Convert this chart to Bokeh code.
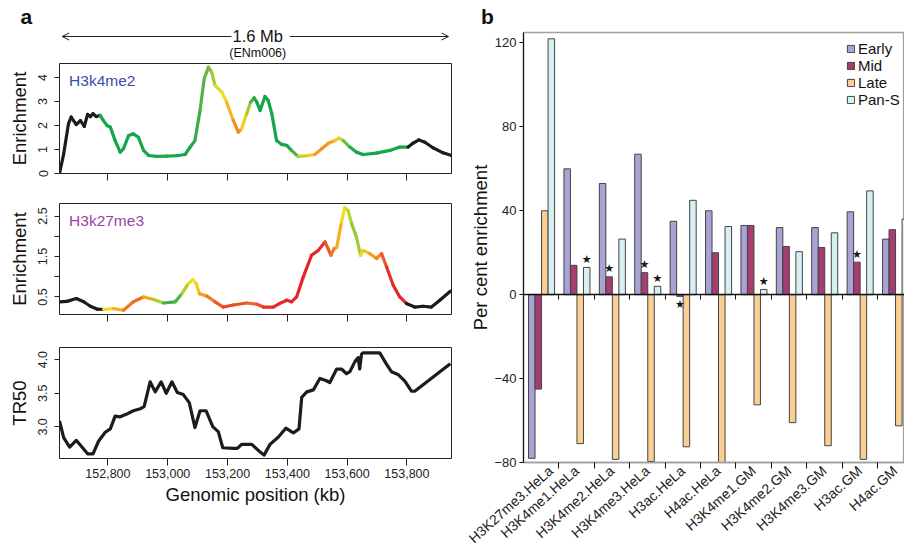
import math
import numpy as np
from bokeh.plotting import figure
from bokeh.layouts import row, column
from bokeh.models import (Range1d, FixedTicker, NumeralTickFormatter, Label, Arrow,
                          OpenHead, LinearAxis, Legend, LegendItem, ColumnDataSource,
                          LinearColorMapper)
from bokeh.transform import transform
from bokeh.core.properties import value
from bokeh.embed import file_html
from bokeh.resources import INLINE

FONT = "Liberation Sans"
NAN = float("nan")

# ---------------- Panel a data ----------------
k4_x = [152638, 152652, 152668, 152677, 152694, 152708, 152721, 152732, 152741, 152750,
        152761, 152774, 152785, 152797, 152808, 152824, 152841, 152852, 152869, 152885,
        152902, 152919, 152936, 152964, 152997, 153030, 153058, 153075, 153091, 153108,
        153122, 153136, 153147, 153158, 153181, 153197, 153219, 153236, 153247, 153264,
        153277, 153289, 153298, 153309, 153325, 153336, 153348, 153364, 153381, 153398,
        153414, 153436, 153465, 153492, 153515, 153537, 153559, 153573, 153587, 153609,
        153631, 153653, 153698, 153743, 153776, 153804, 153820, 153840, 153860, 153887,
        153921, 153949]
k4_y = [0.00, 0.82, 2.07, 2.35, 2.04, 2.20, 1.96, 2.46, 2.37, 2.49,
        2.37, 2.42, 2.20, 2.00, 1.93, 1.37, 0.89, 1.03, 1.58, 1.65,
        1.51, 0.96, 0.75, 0.71, 0.72, 0.74, 0.79, 1.10, 1.37, 2.62,
        3.95, 4.43, 4.22, 3.67, 3.39, 2.97, 2.21, 1.72, 1.86, 2.49,
        2.97, 3.15, 2.97, 2.62, 3.21, 3.04, 2.49, 1.37, 1.21, 1.17,
        0.96, 0.71, 0.74, 0.79, 1.03, 1.26, 1.37, 1.47, 1.37, 1.10,
        0.89, 0.79, 0.85, 0.96, 1.10, 1.10, 1.26, 1.40, 1.30, 1.07,
        0.86, 0.75]
k4_s = [NAN] * 11 + [0, 0, 0, 0, 0, 0, 0, 0, 0,
        0, 0, 0, 0, 0.05, 0, 0, 0, 0.05, 0.15,
        0.2, 0.25, 0.3, 0.4, 0.5, 0.55, 0.7, 0.8, 0.7, 0.45,
        0.25, 0.1, 0, 0, 0, 0, 0, 0, 0, 0,
        0, 0.3, 0.5, 0.65, 0.75, 0.72, 0.65, 0.5, 0.35, 0.15,
        0, 0, 0, 0, 0, 0] + [NAN] * 6

k27_x = [152638, 152663, 152694, 152719, 152741, 152763, 152785, 152819, 152852, 152885,
         152919, 152952, 152986, 153025, 153047, 153069, 153084, 153095, 153106, 153131,
         153158, 153186, 153219, 153264, 153298, 153320, 153353, 153375, 153398, 153414,
         153431, 153453, 153481, 153503, 153526, 153546, 153557, 153565, 153581, 153592,
         153603, 153615, 153631, 153645, 153653, 153676, 153698, 153715, 153732, 153754,
         153776, 153798, 153826, 153854, 153882, 153910, 153945]
k27_y = [0.38, 0.39, 0.46, 0.38, 0.27, 0.20, 0.19, 0.21, 0.17, 0.38,
         0.50, 0.44, 0.35, 0.38, 0.58, 0.83, 0.93, 0.83, 0.58, 0.52,
         0.38, 0.25, 0.30, 0.35, 0.32, 0.25, 0.25, 0.34, 0.42, 0.38,
         0.50, 0.99, 1.53, 1.65, 1.86, 1.53, 1.70, 1.72, 2.35, 2.71,
         2.64, 2.31, 1.98, 1.53, 1.65, 1.57, 1.45, 1.57, 1.24, 0.79,
         0.50, 0.34, 0.25, 0.27, 0.25, 0.42, 0.64]
k27_s = [NAN] * 6 + [0.5, 0.55, 0.75, 0.85,
         0.8, 0.55, 0.2, 0.05, 0.3, 0.45, 0.5, 0.5, 0.65, 0.75,
         0.85, 0.9, 0.95, 0.85, 0.85, 0.95, 1, 1, 1, 1,
         1, 1, 1, 1, 0.95, 0.8, 0.8, 0.75, 0.55, 0.5,
         0.45, 0.35, 0.3, 0.4, 0.55, 0.65, 0.75, 0.8, 0.95, 1,
         1, 1] + [NAN] * 5

tr_x = [152638, 152652, 152672, 152694, 152713, 152732, 152750, 152769, 152791, 152808,
        152824, 152841, 152863, 152885, 152908, 152921, 152941, 152958, 152978, 152995,
        153014, 153032, 153052, 153072, 153091, 153108, 153128, 153151, 153169, 153184,
        153219, 153233, 153247, 153281, 153303, 153322, 153342, 153370, 153395, 153420,
        153439, 153448, 153465, 153487, 153509, 153529, 153542, 153565, 153581, 153598,
        153609, 153626, 153637, 153642, 153648, 153653, 153709, 153732, 153748, 153770,
        153793, 153815, 153826, 153945]
tr_y = [3.09, 2.84, 2.70, 2.80, 2.70, 2.60, 2.60, 2.79, 2.92, 2.97,
        3.16, 3.15, 3.19, 3.24, 3.27, 3.30, 3.67, 3.52, 3.67, 3.50,
        3.67, 3.51, 3.48, 3.36, 2.99, 3.24, 3.24, 3.00, 2.93, 2.69,
        2.68, 2.68, 2.74, 2.74, 2.65, 2.58, 2.74, 2.85, 2.98, 2.91,
        2.97, 3.44, 3.52, 3.55, 3.72, 3.69, 3.66, 3.86, 3.86, 3.79,
        3.82, 3.97, 4.03, 3.86, 4.08, 4.10, 4.10, 3.93, 3.82, 3.78,
        3.68, 3.53, 3.53, 3.94]

pos_ticks = [152800, 153000, 153200, 153400, 153600, 153800]
X0, X1 = 152638, 153949
region_start, region_end = 152647, 153939   # the 1.6 Mb span arrow

# ---------------- Panel b data ----------------
categories = ["H3K27me3.HeLa", "H3K4me1.HeLa", "H3K4me2.HeLa", "H3K4me3.HeLa",
              "H3ac.HeLa", "H4ac.HeLa", "H3K4me1.GM", "H3K4me2.GM",
              "H3K4me3.GM", "H3ac.GM", "H4ac.GM"]
early = [-78, 60, 53, 67, 35, 40, 33, 32, 32, 39.5, 26.5]
mid = [-45, 14, 8.5, 10.5, -0.8, 20, 33, 23, 22.5, 15.5, 31]
late = [40, -71, -78.5, -79.5, -72.5, -80.5, -52.5, -61, -72, -78.5, -62.5]
pans = [122, 13, 26.5, 4, 45, 32.5, 2.5, 20.5, 29.5, 49.5, 36]
series_names = ["Early", "Mid", "Late", "Pan-S"]
series_colors = ["#a8a3d5", "#a63d70", "#facf93", "#d8eff2"]
stars = [("H3K4me1.HeLa", "Pan-S"), ("H3K4me2.HeLa", "Mid"), ("H3K4me3.HeLa", "Mid"),
         ("H3K4me3.HeLa", "Pan-S"), ("H3ac.HeLa", "Mid"), ("H3K4me1.GM", "Pan-S"),
         ("H3ac.GM", "Mid")]
pct_ticks = [-80, -40, 0, 40, 80, 120]


def interp_palette(stops, n=256):
    pos = [s[0] for s in stops]
    rgb = [tuple(int(s[1][i:i + 2], 16) for i in (1, 3, 5)) for s in stops]
    out = []
    for t in np.linspace(0, 1, n):
        c = [int(round(np.interp(t, pos, [r[k] for r in rgb]))) for k in range(3)]
        out.append("#%02x%02x%02x" % tuple(c))
    return out

palette = interp_palette([(0.0, "#13a64a"), (0.25, "#6cbb43"), (0.5, "#f2e41c"),
                          (0.75, "#f48e20"), (1.0, "#e4262b")])
cmapper = LinearColorMapper(palette=palette, low=0, high=1, nan_color="#1c1c1c")


def seg_source(xs, ys, ss):
    xs, ys, ss = np.array(xs, float), np.array(ys, float), np.array(ss, float)
    sc = (ss[:-1] + ss[1:]) / 2.0
    return ColumnDataSource(dict(x0=xs[:-1], y0=ys[:-1], x1=xs[1:], y1=ys[1:], score=sc))


def style_a(p, ylabel, yticks, minor=None):
    p.grid.visible = False
    p.outline_line_color = "#222222"
    p.outline_line_width = 1
    xa, ya = p.xaxis[0], p.yaxis[0]
    xa.ticker = FixedTicker(ticks=pos_ticks, minor_ticks=[])
    ya.ticker = FixedTicker(ticks=yticks, minor_ticks=minor or [])
    for ax in (xa, ya):
        ax.axis_line_color = None
        ax.major_tick_line_color = "#222222"
        ax.major_tick_in = 0
        ax.minor_tick_in = 0
        ax.minor_tick_line_color = "#222222" if minor else None
        ax.major_label_text_font = FONT
        ax.major_label_text_font_size = "12.5px"
        ax.major_label_text_color = "#222222"
        ax.axis_label_text_font = FONT
        ax.axis_label_text_font_style = "normal"
        ax.axis_label_text_font_size = "18.5px"
        ax.axis_label_text_color = "#111111"
    xa.major_tick_out = 7
    ya.major_tick_out = 5
    ya.minor_tick_out = 5
    ya.major_label_orientation = "vertical"
    ya.major_label_standoff = 7
    ya.axis_label = ylabel
    ya.axis_label_standoff = 6

LEFT_W, LEFT_B, RIGHT_B = 465, 59, 14


def fig_a(height, top, bottom, yr):
    return figure(width=LEFT_W, height=height, x_range=Range1d(X0, X1), y_range=Range1d(*yr),
                  output_backend="svg", toolbar_location=None, min_border_left=LEFT_B,
                  min_border_right=RIGHT_B, min_border_top=top, min_border_bottom=bottom,
                  frame_align=False)


def bare(width, height, xr, yr):
    p = figure(width=width, height=height, x_range=xr, y_range=yr, output_backend="svg",
               toolbar_location=None, x_axis_location=None, y_axis_location=None,
               min_border=0, min_border_left=0, min_border_right=0, min_border_top=0,
               min_border_bottom=0, frame_align=False)
    p.grid.visible = False
    p.outline_line_color = None
    return p

# ---------------- Panel a header ----------------
kb_per_px = (X1 - X0) / float(LEFT_W - LEFT_B - RIGHT_B)
ha = bare(LEFT_W, 61, Range1d(X0 - LEFT_B * kb_per_px, X1 + RIGHT_B * kb_per_px), Range1d(0, 61))
ha.add_layout(Label(x=X0 - 39 * kb_per_px, y=34, text="a", text_font=FONT,
                    text_font_size="21px", text_font_style="bold", text_color="#111111"))
mid_kb = (region_start + region_end) / 2.0 + 8
ha.add_layout(Label(x=mid_kb, y=26, text="1.6 Mb", text_font=FONT, text_font_size="16.5px",
                    text_align="center", text_baseline="middle", text_color="#111111"))
ha.add_layout(Label(x=mid_kb, y=9, text="(ENm006)", text_font=FONT, text_font_size="12.5px",
                    text_align="center", text_baseline="middle", text_color="#111111"))
ha.add_layout(Arrow(x_start=mid_kb - 88, y_start=25, x_end=region_start, y_end=25,
                    line_width=1, line_color="#222222",
                    end=OpenHead(size=7, line_width=1, line_color="#222222")))
ha.add_layout(Arrow(x_start=mid_kb + 107, y_start=25, x_end=region_end, y_end=25,
                    line_width=1, line_color="#222222",
                    end=OpenHead(size=7, line_width=1, line_color="#222222")))

# ---------------- Panel a: H3K4me2 ----------------
f1 = fig_a(127, 2, 15, (0.0, 4.58))
style_a(f1, "Enrichment", [0, 1, 2, 3, 4])
f1.xaxis[0].major_label_text_font_size = "0px"
f1.xaxis[0].major_label_standoff = 0
f1.segment("x0", "y0", "x1", "y1", source=seg_source(k4_x, k4_y, k4_s),
           line_color=transform("score", cmapper), line_width=3.2, line_cap="round")
f1.add_layout(Label(x=152670, y=3.88, text="H3k4me2", text_font=FONT, text_font_size="15.5px",
                    text_color="#3b4ca8", text_baseline="middle"))

# ---------------- Panel a: H3K27me3 ----------------
f2 = fig_a(142, 15, 16, (0.066, 2.81))
style_a(f2, "Enrichment", [0.5, 1.5, 2.5], minor=[1.0, 2.0])
f2.xaxis[0].major_label_text_font_size = "0px"
f2.xaxis[0].major_label_standoff = 0
f2.segment("x0", "y0", "x1", "y1", source=seg_source(k27_x, k27_y, k27_s),
           line_color=transform("score", cmapper), line_width=3.2, line_cap="round")
f2.add_layout(Label(x=152670, y=2.4, text="H3k27me3", text_font=FONT, text_font_size="15.5px",
                    text_color="#9c3fa2", text_baseline="middle"))

# ---------------- Panel a: TR50 ----------------
f3 = fig_a(178, 17, 50, (2.53, 4.18))
style_a(f3, "TR50", [3.0, 3.5, 4.0])
f3.yaxis[0].formatter = NumeralTickFormatter(format="0.0")
f3.xaxis[0].formatter = NumeralTickFormatter(format="0,0")
f3.xaxis[0].major_label_standoff = 3
f3.xaxis[0].axis_label = "Genomic position (kb)"
f3.xaxis[0].axis_label_standoff = 3
f3.line(tr_x, tr_y, line_color="#1c1c1c", line_width=3.2, line_join="round")

# ---------------- Panel b header ----------------
RIGHT_W = 439
hb = bare(RIGHT_W, 31, Range1d(0, RIGHT_W), Range1d(0, 31))
hb.add_layout(Label(x=22, y=4, text="b", text_font=FONT, text_font_size="21px",
                    text_font_style="bold", text_align="center", text_color="#111111"))

# ---------------- Panel b ----------------
n_cat = len(categories)
PB_H, PB_TOP, PB_BOT, PB_LEFT = 524, 1, 93, 58
cat_px = 35.4
pb = figure(width=RIGHT_W, height=PB_H,
            x_range=Range1d(0, (RIGHT_W - PB_LEFT) / cat_px), y_range=Range1d(-80, 125),
            output_backend="svg", toolbar_location=None, min_border_left=PB_LEFT,
            min_border_right=0, min_border_top=PB_TOP, min_border_bottom=PB_BOT,
            frame_align=False)
pb.grid.visible = False
pb.outline_line_color = "#a0a0a0"
pb.outline_line_width = 1.3

bar_w = 0.184
offsets = [0.51 + (k - 1.5) * bar_w for k in range(4)]
values = {"Early": early, "Mid": mid, "Late": late, "Pan-S": pans}
renderers = []
for k, name in enumerate(series_names):
    xs = [i + offsets[k] for i in range(n_cat)]
    r = pb.vbar(x=xs, top=values[name], bottom=0, width=bar_w,
                fill_color=series_colors[k], line_color="#444444", line_width=1)
    renderers.append(r)

sx_up, sy_up, sx_dn, sy_dn = [], [], [], []
for cat, ser in stars:
    i = categories.index(cat)
    k = series_names.index(ser)
    v = values[ser][i]
    if v >= 0:
        sx_up.append(i + offsets[k]); sy_up.append(v + 0.8)
    else:
        sx_dn.append(i + offsets[k]); sy_dn.append(v - 0.8)
pb.text(x=sx_up, y=sy_up, text=["\u2605"] * len(sx_up), text_align="center",
        text_baseline="bottom", text_font=value("DejaVu Sans"), text_font_size="11px",
        text_color="#1a1a1a")
pb.text(x=sx_dn, y=sy_dn, text=["\u2605"] * len(sx_dn), text_align="center",
        text_baseline="top", text_font=value("DejaVu Sans"), text_font_size="11px",
        text_color="#1a1a1a")

xa = pb.xaxis[0]
centers = [i + 0.5 for i in range(n_cat)]
xa.ticker = FixedTicker(ticks=centers, minor_ticks=[float(i) for i in range(1, n_cat)])
xa.major_label_overrides = {c: lab for c, lab in zip(centers, categories)}
xa.major_tick_out = 0
xa.major_tick_in = 0
xa.minor_tick_out = 6
xa.minor_tick_in = 0
xa.minor_tick_line_color = "#111111"
xa.axis_line_color = "#a0a0a0"
xa.axis_line_width = 1.3
xa.major_label_orientation = math.radians(42)
xa.major_label_text_font = FONT
xa.major_label_text_font_size = "14px"
xa.major_label_text_color = "#222222"
xa.major_label_standoff = 0

ya = pb.yaxis[0]
ya.ticker = FixedTicker(ticks=pct_ticks, minor_ticks=[])
ya.major_label_overrides = {-40: "\u221240", -80: "\u221280"}
ya.axis_line_color = "#111111"
ya.axis_line_width = 1.2
ya.major_tick_out = 4
ya.major_tick_in = 0
ya.major_tick_line_color = "#111111"
ya.minor_tick_line_color = None
ya.major_label_text_font = FONT
ya.major_label_text_font_size = "13px"
ya.major_label_text_color = "#222222"
ya.major_label_standoff = 3
ya.axis_label = "Per cent enrichment"
ya.axis_label_text_font = FONT
ya.axis_label_text_font_style = "normal"
ya.axis_label_text_font_size = "18.5px"
ya.axis_label_text_color = "#111111"
ya.axis_label_standoff = 0

zero_axis = LinearAxis(fixed_location=0,
                       ticker=FixedTicker(ticks=[float(i) for i in range(1, n_cat)], minor_ticks=[]),
                       major_tick_out=5, major_tick_in=0, major_label_text_font_size="0px",
                       major_label_standoff=0, axis_line_color="#111111", axis_line_width=1.3,
                       major_tick_line_color="#111111", minor_tick_line_color=None)
pb.add_layout(zero_axis, "below")

frame_h = PB_H - PB_TOP - PB_BOT
legend = Legend(items=[LegendItem(label=n, renderers=[r]) for n, r in zip(series_names, renderers)],
                location=(323, frame_h - 8 - 68), padding=0, margin=0, spacing=0,
                label_height=17, glyph_height=9, glyph_width=9, label_standoff=3,
                label_text_font=FONT, label_text_font_size="15px",
                label_text_color="#111111", border_line_color=None, background_fill_alpha=0)
pb.add_layout(legend)

layout = row(column(ha, f1, f2, f3), column(hb, pb))
open("out.html", "w").write(file_html(layout, INLINE))
